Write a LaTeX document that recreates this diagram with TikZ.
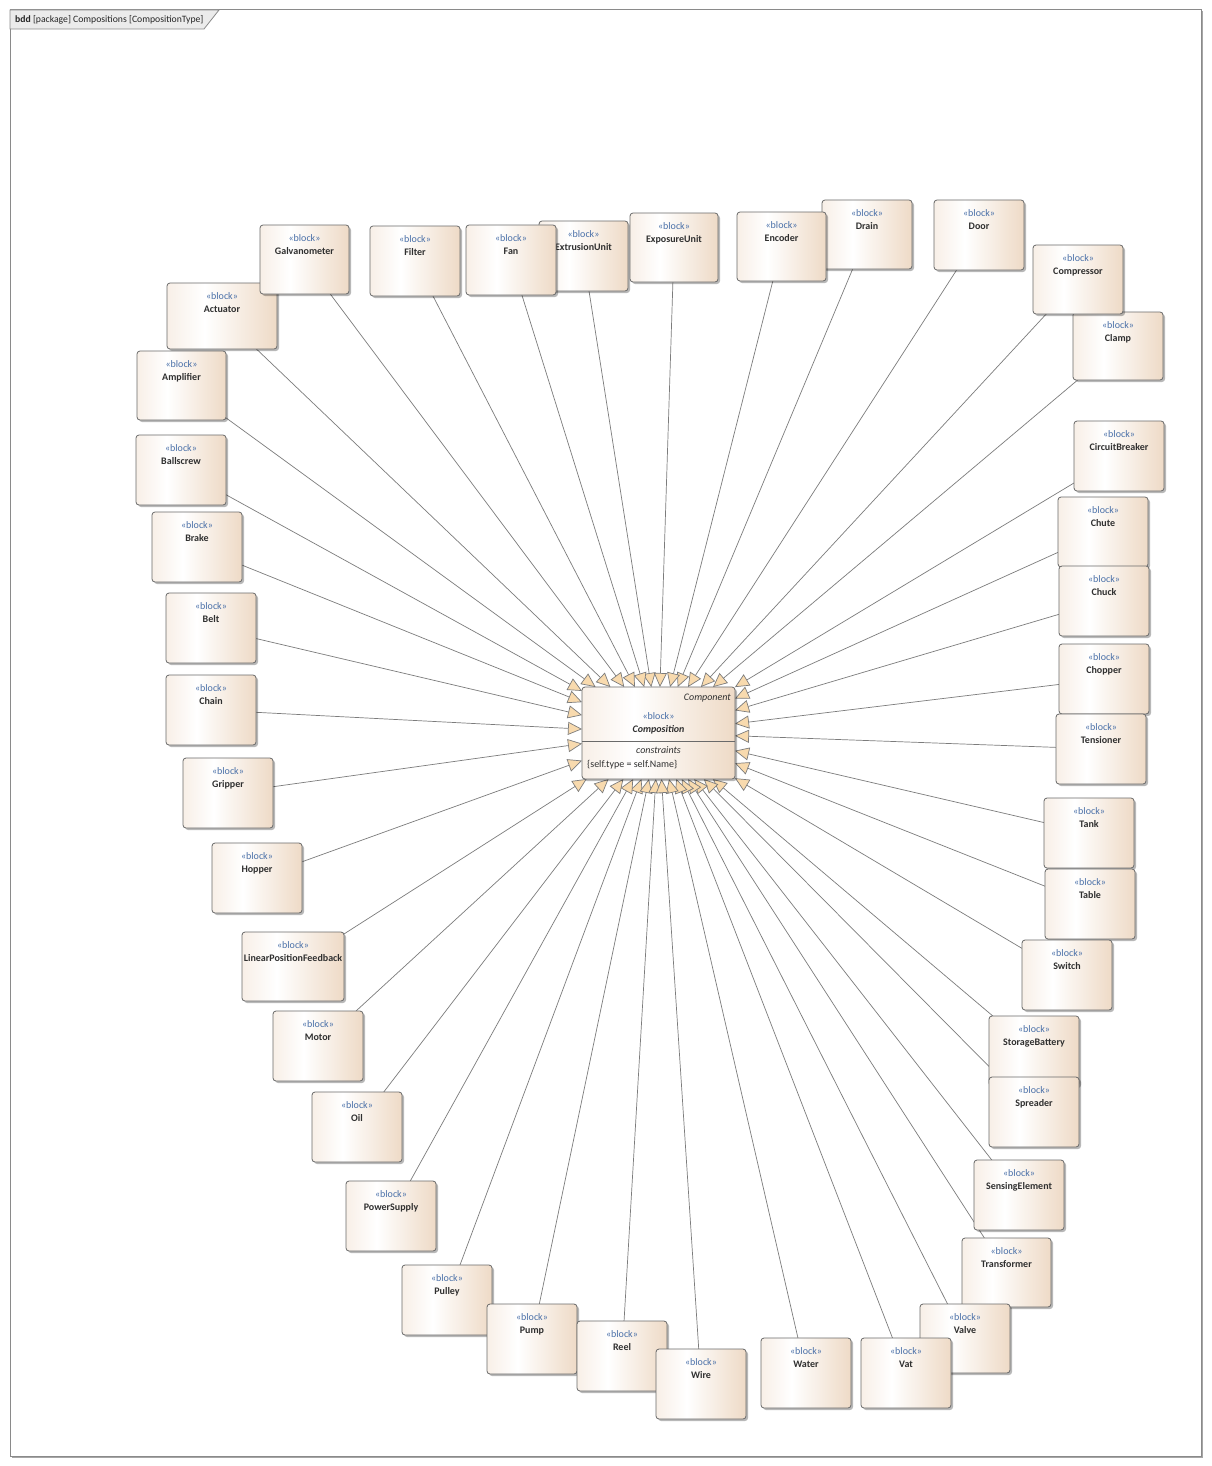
\documentclass[tikz,border=0pt]{standalone}
\usepackage{fontspec}
\setmainfont{Carlito}
\usetikzlibrary{arrows.meta,shadows,backgrounds}
\definecolor{blockL}{HTML}{F8EFE7}
\definecolor{blockR}{HTML}{EEDAC6}
\definecolor{stereoC}{HTML}{4A70A8}
\definecolor{nameC}{HTML}{303030}
\definecolor{lineC}{HTML}{7C7C7C}
\definecolor{arrowC}{HTML}{F8DAAE}
\definecolor{borderC}{HTML}{6A6A6A}
\definecolor{frameC}{HTML}{8A8A8A}
\definecolor{tabC}{HTML}{EBEBEB}
\pgfdeclarehorizontalshading{blockshade}{100bp}{color(0bp)=(blockL); color(25bp)=(blockL); color(42bp)=(white); color(75bp)=(blockR); color(100bp)=(blockR)}
\tikzset{
 blockbox/.style={draw=borderC, line width=0.8pt, rounded corners=3pt, shading=blockshade,
   drop shadow={shadow xshift=2pt, shadow yshift=-2pt, fill=black, opacity=0.28},
   inner sep=0pt, outer sep=0pt},
 stereo/.style={font=\fontsize{10}{11}\selectfont, text=stereoC, anchor=base, inner sep=0pt},
 bname/.style={font=\fontsize{10}{11}\selectfont\bfseries, text=nameC, anchor=base, inner sep=0pt},
 plaintext/.style={font=\fontsize{10}{11}\selectfont, text=nameC, inner sep=0pt},
 genline/.style={draw=lineC, line width=0.7pt, -{Triangle[length=14pt, width=13pt, fill=arrowC]}},
}
\newcommand\blk[6]{%
 \node[blockbox, minimum width=#4pt, minimum height=#5pt, anchor=north west] (#1) at (#2,#3) {};
 \node[stereo] (#1s) at ([yshift=-16pt]#1.north) {«block»};
 \node[bname] (#1n) at ([yshift=-29pt]#1.north) {#6};}
\begin{document}
\begin{tikzpicture}[x=1pt,y=-1pt]
\useasboundingbox (0,0) rectangle (1211,1466);
% blocks
\blk{act}{167}{283}{110}{66}{Actuator}
\blk{galv}{260}{225}{89}{69}{Galvanometer}
\blk{filter}{370}{226}{90}{70}{Filter}
\blk{extr}{539}{221}{89}{70}{ExtrusionUnit}
\blk{fan}{466}{225}{90}{70}{Fan}
\blk{expo}{630}{213}{88}{69}{ExposureUnit}
\blk{drain}{822}{200}{90}{69}{Drain}
\blk{enc}{737}{212}{89}{69}{Encoder}
\blk{door}{934}{200}{90}{70}{Door}
\blk{clamp}{1073}{312}{90}{68}{Clamp}
\blk{compr}{1033}{245}{90}{69}{Compressor}
\blk{circ}{1074}{421}{90}{70}{CircuitBreaker}
\blk{chute}{1058}{497}{90}{70}{Chute}
\blk{chuck}{1059}{566}{90}{70}{Chuck}
\blk{chopper}{1059}{644}{90}{70}{Chopper}
\blk{tens}{1056}{714}{90}{70}{Tensioner}
\blk{tank}{1044}{798}{90}{70}{Tank}
\blk{table}{1045}{869}{90}{70}{Table}
\blk{switch}{1022}{940}{90}{70}{Switch}
\blk{stor}{989}{1016}{90}{70}{StorageBattery}
\blk{spread}{989}{1077}{90}{70}{Spreader}
\blk{sens}{974}{1160}{90}{70}{SensingElement}
\blk{trans}{962}{1238}{89}{69}{Transformer}
\blk{valve}{920}{1304}{90}{69}{Valve}
\blk{vat}{861}{1338}{90}{70}{Vat}
\blk{water}{761}{1338}{90}{70}{Water}
\blk{pulley}{402}{1265}{90}{70}{Pulley}
\blk{pump}{487}{1304}{90}{70}{Pump}
\blk{reel}{577}{1321}{90}{70}{Reel}
\blk{wire}{656}{1349}{90}{70}{Wire}
\blk{power}{346}{1181}{90}{70}{PowerSupply}
\blk{oil}{312}{1092}{90}{70}{Oil}
\blk{motor}{273}{1011}{90}{70}{Motor}
\blk{lpf}{242}{932}{102}{69}{LinearPositionFeedback}
\blk{hopper}{212}{843}{90}{70}{Hopper}
\blk{grip}{183}{758}{90}{70}{Gripper}
\blk{chain}{166}{675}{90}{70}{Chain}
\blk{belt}{166}{593}{90}{70}{Belt}
\blk{brake}{152}{512}{90}{70}{Brake}
\blk{ball}{136}{435}{90}{70}{Ballscrew}
\blk{ampl}{137}{351}{89}{69}{Amplifier}
% central block
\node[blockbox, minimum width=153pt, minimum height=92pt] (comp) at (658.5,733) {};
\node[plaintext, font=\fontsize{10}{11}\selectfont\itshape, anchor=base east] (compst) at (731,700) {Component};
\node[stereo] (comps) at (658.5,719) {«block»};
\node[bname, font=\fontsize{10}{11}\selectfont\bfseries\itshape] (compn) at (658.5,732) {Composition};
\draw[draw=borderC, line width=0.8pt] ([yshift=-8pt]comp.west) -- ([yshift=-8pt]comp.east);
\node[plaintext, font=\fontsize{10}{11}\selectfont\itshape, anchor=base] (compc) at (658.5,753) {constraints};
\node[plaintext, anchor=base west] (compk) at (587,767) {\{self.type = self.Name\}};
% frame and connectors behind
\begin{pgfonlayer}{background}
\draw[draw=frameC, line width=1pt, fill=white, drop shadow={shadow xshift=1.5pt, shadow yshift=-1.5pt, fill=black, opacity=0.35}] (10,10) rectangle (1201,1456);
\draw[draw=frameC, line width=0.8pt, fill=tabC] (10,10) -- (219,10) -- (204,29) -- (10,29) -- cycle;
\node[plaintext, font=\fontsize{9.7}{11}\selectfont, anchor=base west, text=black!85] (title) at (15,22.5) {\textbf{bdd} [package] Compositions [CompositionType]};
\foreach \n in {act,galv,filter,extr,fan,expo,drain,enc,door,clamp,compr,circ,chute,chuck,chopper,tens,tank,table,switch,stor,spread,sens,trans,valve,vat,water,pulley,pump,reel,wire,power,oil,motor,lpf,hopper,grip,chain,belt,brake,ball,ampl}
  \draw[genline] (\n) -- (comp);
\end{pgfonlayer}
\end{tikzpicture}
\end{document}
